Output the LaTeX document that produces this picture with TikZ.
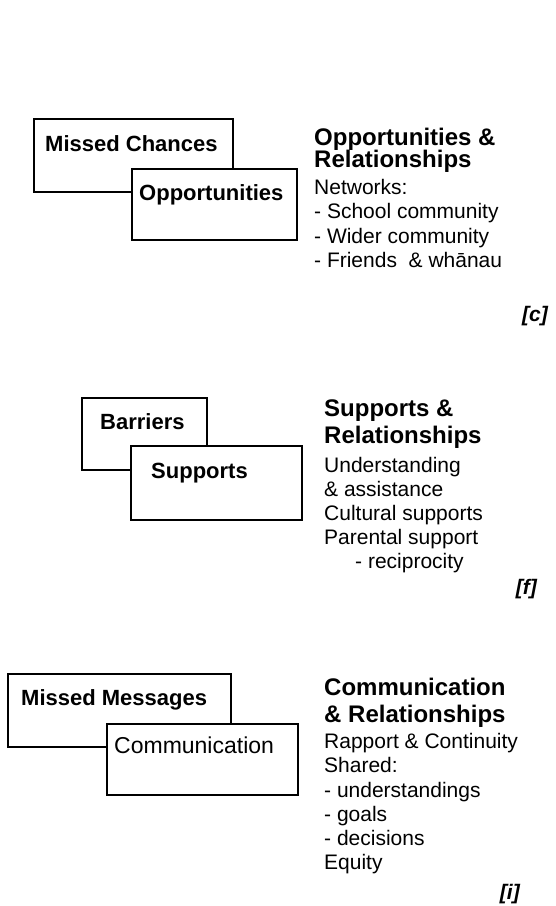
\documentclass[tikz,border=0pt]{standalone}
\usepackage{fontspec}
\setmainfont{Liberation Sans}
\begin{document}
\begin{tikzpicture}[x=1pt,y=-1pt,
  panel/.style={draw=black, line width=1.6pt, fill=white, rectangle,
    inner sep=0pt, anchor=north west},
  boxlabel/.style={font=\fontsize{22}{24}\selectfont\bfseries,
    anchor=base west, inner sep=0pt},
  boxlabelplain/.style={font=\fontsize{23}{25}\selectfont,
    anchor=base west, inner sep=0pt},
  heading/.style={font=\fontsize{24}{26}\selectfont\bfseries,
    anchor=base west, inner sep=0pt},
  body/.style={font=\fontsize{21}{24}\selectfont,
    anchor=base west, inner sep=0pt},
  tag/.style={font=\fontsize{21}{24}\selectfont\bfseries\itshape,
    anchor=base east, inner sep=0pt}]
\useasboundingbox (0,0) rectangle (556,906);

% ---------- Opportunities ----------
\node[panel, minimum width=199pt, minimum height=73pt] (mc) at (33,118) {};
\node[panel, minimum width=165pt, minimum height=71pt] (op) at (131,168) {};
\node[boxlabel] (mcl) at (45,151) {Missed Chances};
\node[boxlabel] (opl) at (139,200) {Opportunities};

\node[heading] (h1a) at (314,145) {Opportunities \&};
\node[heading] (h1b) at (314,167) {Relationships};
\node[body] (b1a) at (314,194) {Networks:};
\node[body] (b1b) at (314,218) {- School community};
\node[body] (b1c) at (314,243) {- Wider community};
\node[body] (b1d) at (314,267) {- Friends\ \ \& whānau};
\node[tag] (tc) at (548,321) {[c]};

% ---------- Supports ----------
\node[panel, minimum width=125pt, minimum height=72pt] (ba) at (81,397) {};
\node[panel, minimum width=171pt, minimum height=74pt] (su) at (130,445) {};
\node[boxlabel] (bal) at (100,429) {Barriers};
\node[boxlabel] (sul) at (151,478) {Supports};

\node[heading] (h2a) at (324,416) {Supports \&};
\node[heading] (h2b) at (324,443) {Relationships};
\node[body] (b2a) at (324,472) {Understanding};
\node[body] (b2b) at (324,496) {\& assistance};
\node[body] (b2c) at (324,520) {Cultural supports};
\node[body] (b2d) at (324,544) {Parental support};
\node[body] (b2e) at (355,568) {- reciprocity};
\node[tag] (tf) at (537,594) {[f]};

% ---------- Communication ----------
\node[panel, minimum width=223pt, minimum height=73pt] (mm) at (7,673) {};
\node[panel, minimum width=191pt, minimum height=71pt] (co) at (106,723) {};
\node[boxlabel] (mml) at (21,705) {Missed Messages};
\node[boxlabelplain] (col) at (114,753) {Communication};

\node[heading] (h3a) at (324,695) {Communication};
\node[heading] (h3b) at (324,722) {\& Relationships};
\node[body] (b3a) at (324,748) {Rapport \& Continuity};
\node[body] (b3b) at (324,772) {Shared:};
\node[body] (b3c) at (324,797) {- understandings};
\node[body] (b3d) at (324,821) {- goals};
\node[body] (b3e) at (324,845) {- decisions};
\node[body] (b3f) at (324,869) {Equity};
\node[tag] (ti) at (520,899) {[i]};
\end{tikzpicture}
\end{document}
